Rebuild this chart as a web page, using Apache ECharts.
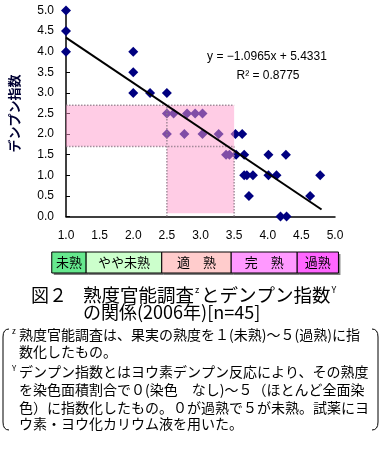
<!DOCTYPE html>
<html><head><meta charset="utf-8">
<script src="https://cdn.jsdelivr.net/npm/echarts@6/dist/echarts.min.js"></script>
<style>html,body{margin:0;padding:0;background:#fff}#c{width:381px;height:459px}</style>
</head><body><div id="c"></div>
<script>
// ---- data ----
const ripeness = [1.0,1.0,1.0, 2.0,2.0,2.0, 2.25, 2.5, 2.5,2.6,2.8,2.92,3.03, 2.5,2.76,3.03,3.27,3.52,3.62, 3.38,3.43,3.53,3.65,4.01,4.27, 3.65,3.69,3.78,4.01,4.13,4.78, 3.72,4.63, 4.19,4.28];
const starchIndex = [5.0,4.5,4.0, 4.0,3.5,3.0, 3.0, 3.0, 2.5,2.5,2.5,2.5,2.5, 2.0,2.0,2.0,2.0,2.0,2.0, 1.5,1.5,1.5,1.5,1.5,1.5, 1.0,1.0,1.0,1.0,1.0,1.0, 0.5,0.5, 0.0,0.0];
const trendX = [1.0, 4.8];
const trendY = [4.34, 0.17];
const bandY = [1.7, 2.7];      // starch index range highlighted
const bandX = [2.5, 3.5];      // ripeness range highlighted
const bandFloor = 0.08;
const stageNames = ['未熟', 'やや未熟', '適　熟', '完　熟', '過熟'];
const stageEdges = [0.88, 1.38, 2.48, 3.49, 4.45, 5.05];
const equationLines = ['y = −1.0965x + 5.4331', 'R² = 0.8775'];
const yAxisTitle = 'デンプン指数';
const titleParts = ['図２', '熟度官能調査', 'z', 'とデンプン指数', 'Y', 'の関係(2006年)[n=45]'];
const footLines = [
  '熟度官能調査は、果実の熟度を１(未熟)～５(過熟)に指',
  '数化したもの。',
  'デンプン指数とはヨウ素デンプン反応により、その熟度',
  'を染色面積割合で０(染色　なし)～５（ほとんど全面染',
  '色）に指数化したもの。０が過熟で５が未熟。試薬にヨ',
  'ウ素・ヨウ化カリウム液を用いた。'
];

const JP = '"Noto Sans CJK JP"';
const chart = echarts.init(document.getElementById('c'), null, {renderer: 'canvas'});
const stageFill = ['#66e88e', '#ccffcc', '#ffcccc', '#ff99ff', '#ff66ff'];
const axisLbl = {color: '#000', fontSize: 12, fontFamily: 'Liberation Sans', margin: 13, formatter: v => v.toFixed(1)};

const footY = [335, 352, 372, 390, 408, 424];
const TF = 18.5;

const option = {
  backgroundColor: '#fff',
  animation: false,
  grid: [
    {left: 60, top: 10.5, width: 275, height: 206},
    {left: 60, top: 252, width: 275, height: 21}
  ],
  xAxis: [
    {gridIndex: 0, type: 'value', min: 1, max: 5, interval: 0.5,
     axisLine: {show: true, onZero: false, lineStyle: {color: '#000', width: 1.5}},
     axisTick: {show: false}, splitLine: {show: false}, axisLabel: axisLbl},
    {gridIndex: 1, type: 'value', min: 1, max: 5, show: false}
  ],
  yAxis: [
    {gridIndex: 0, type: 'value', min: 0, max: 5, interval: 0.5,
     axisLine: {show: true, onZero: false, lineStyle: {color: '#000', width: 1.5}},
     axisTick: {show: true, inside: true, length: 4, lineStyle: {color: '#000'}},
     splitLine: {show: false}, axisLabel: Object.assign({}, axisLbl, {margin: 12}),
     name: yAxisTitle, nameLocation: 'middle', nameGap: 45, nameRotate: 90,
     nameTextStyle: {color: '#000033', fontSize: 13, fontFamily: JP, fontWeight: 'bold'}},
    {gridIndex: 1, type: 'value', min: 0, max: 1, show: false}
  ],
  series: [
    {
      type: 'scatter', xAxisIndex: 0, yAxisIndex: 0, z: 2, clip: false,
      symbol: 'diamond', symbolSize: 10,
      itemStyle: {color: '#000080', opacity: 1},
      emphasis: {disabled: true},
      data: ripeness.map((x, i) => [x, starchIndex[i]])
    },
    {
      type: 'custom', xAxisIndex: 0, yAxisIndex: 0, z: 3, clip: false,
      data: [[bandX[0], bandY[0]]],
      renderItem: function (params, api) {
        const p = (x, y) => api.coord([x, y]);
        const poly = [p(1, bandY[1]), p(bandX[1], bandY[1]), p(bandX[1], bandFloor), p(bandX[0], bandFloor), p(bandX[0], bandY[0]), p(1, bandY[0])];
        const dot = {stroke: 'rgba(140,120,135,0.8)', lineWidth: 1.5, lineDash: [1.5, 1.5]};
        const ln = (a, b) => ({type: 'line', shape: {x1: a[0], y1: a[1], x2: b[0], y2: b[1]}, style: dot});
        return {type: 'group', children: [
          {type: 'polygon', shape: {points: poly}, style: {fill: 'rgba(255,153,204,0.5)'}},
          ln(p(1, bandY[1]), p(bandX[1], bandY[1])),
          ln(p(1, bandY[0]), p(bandX[1], bandY[0])),
          ln(p(bandX[0], 0), p(bandX[0], bandY[1])),
          ln(p(bandX[1], 0), p(bandX[1], bandY[0]))
        ]};
      }
    },
    {
      type: 'line', xAxisIndex: 0, yAxisIndex: 0, z: 4, symbol: 'none',
      lineStyle: {color: '#000', width: 2},
      data: trendX.map((x, i) => [x, trendY[i]])
    },
    {
      type: 'custom', xAxisIndex: 1, yAxisIndex: 1, z: 2, clip: false,
      data: stageNames.map((n, i) => [stageEdges[i], 0]),
      renderItem: function (params, api) {
        const i = params.dataIndex;
        const a = api.coord([stageEdges[i], 1]);
        const b = api.coord([stageEdges[i + 1], 0]);
        const w = b[0] - a[0], h = b[1] - a[1];
        return {type: 'group', children: [
          {type: 'rect', shape: {x: a[0] + 2, y: a[1] + 2, width: w, height: h}, style: {fill: '#808080'}},
          {type: 'rect', shape: {x: a[0], y: a[1], width: w, height: h}, style: {fill: stageFill[i], stroke: '#000', lineWidth: 1}},
          {type: 'text', x: a[0] + w / 2, y: a[1] + h / 2,
           style: {text: stageNames[i], align: 'center', verticalAlign: 'middle', fill: '#000', font: '13px ' + JP}}
        ]};
      }
    }
  ],
  graphic: [
    {type: 'text', x: 267, y: 57, style: {text: equationLines[0], align: 'center', verticalAlign: 'middle', fill: '#000', font: '12px "Liberation Sans"'}},
    {type: 'text', x: 268, y: 76, style: {text: equationLines[1], align: 'center', verticalAlign: 'middle', fill: '#000', font: '12px "Liberation Sans"'}},
    {type: 'text', x: 31, y: 295, style: {text: titleParts[0], verticalAlign: 'middle', fill: '#000', font: '18px ' + JP}},
    {type: 'text', x: 83, y: 295, style: {text: titleParts[1], verticalAlign: 'middle', fill: '#000', font: TF + 'px ' + JP}},
    {type: 'text', x: 83 + 6 * TF + 1, y: 290, style: {text: titleParts[2], verticalAlign: 'middle', fill: '#000', font: '9px ' + JP}},
    {type: 'text', x: 83 + 6 * TF + 7, y: 295, style: {text: titleParts[3], verticalAlign: 'middle', fill: '#000', font: TF + 'px ' + JP}},
    {type: 'text', x: 83 + 13 * TF + 8, y: 290, style: {text: titleParts[4], verticalAlign: 'middle', fill: '#000', font: '9px ' + JP}},
    {type: 'text', x: 83, y: 312, style: {text: titleParts[5], verticalAlign: 'middle', fill: '#000', font: '18px ' + JP}},
    {type: 'text', x: 12, y: 331, style: {text: 'z', verticalAlign: 'middle', fill: '#000', font: '8px ' + JP}},
    {type: 'text', x: 12, y: 368, style: {text: 'Y', verticalAlign: 'middle', fill: '#000', font: '8px ' + JP}}
  ].concat(footLines.map((t, i) => ({
    type: 'text', x: 19, y: footY[i], style: {text: t, verticalAlign: 'middle', fill: '#000', font: '14px ' + JP}
  }))).concat([
    {type: 'bezierCurve', shape: {x1: 9, y1: 329, cpx1: 3, cpy1: 329, x2: 3, y2: 337}, style: {stroke: '#000', lineWidth: 1, fill: 'none'}},
    {type: 'line', shape: {x1: 3, y1: 337, x2: 3, y2: 422}, style: {stroke: '#000', lineWidth: 1}},
    {type: 'bezierCurve', shape: {x1: 3, y1: 422, cpx1: 3, cpy1: 430, x2: 9, y2: 430}, style: {stroke: '#000', lineWidth: 1, fill: 'none'}},
    {type: 'bezierCurve', shape: {x1: 372, y1: 329, cpx1: 378, cpy1: 329, x2: 378, y2: 337}, style: {stroke: '#000', lineWidth: 1, fill: 'none'}},
    {type: 'line', shape: {x1: 378, y1: 337, x2: 378, y2: 422}, style: {stroke: '#000', lineWidth: 1}},
    {type: 'bezierCurve', shape: {x1: 378, y1: 422, cpx1: 378, cpy1: 430, x2: 372, y2: 430}, style: {stroke: '#000', lineWidth: 1, fill: 'none'}}
  ])
};
chart.setOption(option);
</script></body></html>
